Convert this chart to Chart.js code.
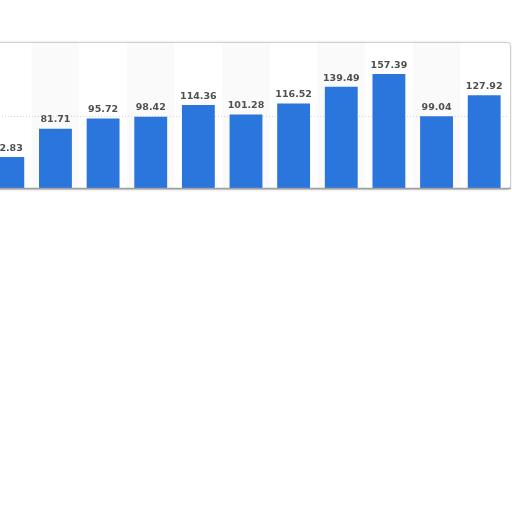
<!DOCTYPE html>
<html>
<head>
<meta charset="utf-8">
<script src="https://cdn.jsdelivr.net/npm/chart.js@4.4.1/dist/chart.umd.min.js"></script>
<style>
  html, body { margin: 0; padding: 0; background: #fff; overflow: hidden; }
  body { width: 512px; height: 512px; position: relative; }
  #card {
    position: absolute; left: -6px; top: 42px; width: 515px; height: 146px;
    border: 1px solid #cfcfcf; border-radius: 4px;
    box-shadow: 0 0 3px rgba(0,0,0,0.12);
    background: #fff;
  }
  #c { position: absolute; left: -40px; top: 0; }
</style>
</head>
<body>
<div id="card"></div>
<canvas id="c" width="560" height="512"></canvas>
<script>
// valores (primeira barra cortada à esquerda)
const categorias = ['1', '2', '3', '4', '5', '6', '7', '8', '9', '10', '11'];
const valores = [42.83, 81.71, 95.72, 98.42, 114.36, 101.28, 116.52, 139.49, 157.39, 99.04, 127.92];
const yMax = 200;
const linhaGrade = 100;

const COR_BARRA = '#2a76dc';
const COR_FAIXA = '#fafafa';

// faixas alternadas, linha pontilhada e eixo
const fundoPlugin = {
  id: 'fundo',
  beforeDatasetsDraw(chart) {
    const { ctx, chartArea, scales } = chart;
    const x = scales.x, y = scales.y;
    const passo = (chartArea.right - chartArea.left) / categorias.length;
    ctx.save();
    ctx.fillStyle = COR_FAIXA;
    categorias.forEach((c, i) => {
      if (i % 2 === 1) {
        const cx = x.getPixelForValue(i);
        ctx.fillRect(cx - passo / 2, chartArea.top, passo, chartArea.bottom - chartArea.top);
      }
    });
    const gy = Math.round(y.getPixelForValue(linhaGrade)) + 0.5;
    ctx.strokeStyle = '#d6d6d6';
    ctx.setLineDash([1, 2]);
    ctx.lineWidth = 1;
    ctx.beginPath();
    ctx.moveTo(chartArea.left, gy);
    ctx.lineTo(chartArea.right, gy);
    ctx.stroke();
    ctx.restore();
  },
  afterDatasetsDraw(chart) {
    const { ctx, chartArea } = chart;
    ctx.save();
    ctx.strokeStyle = '#a0a0a0';
    ctx.lineWidth = 1.5;
    ctx.beginPath();
    ctx.moveTo(chartArea.left, chartArea.bottom + 0.5);
    ctx.lineTo(chartArea.right + 3, chartArea.bottom + 0.5);
    ctx.stroke();

    // rótulos acima das barras
    ctx.fillStyle = '#505050';
    ctx.font = "bold 9.5px 'DejaVu Sans', sans-serif";
    ctx.textAlign = 'center';
    ctx.textBaseline = 'bottom';
    chart.getDatasetMeta(0).data.forEach((bar, i) => {
      ctx.fillText(valores[i].toFixed(2), bar.x, bar.y - 4);
    });
    ctx.restore();
  },
};

new Chart(document.getElementById('c'), {
  type: 'bar',
  data: {
    labels: categorias,
    datasets: [{
      data: valores,
      backgroundColor: COR_BARRA,
      borderWidth: 0,
      barPercentage: 0.69,
      categoryPercentage: 1,
    }],
  },
  options: {
    responsive: false,
    animation: false,
    devicePixelRatio: 1,
    layout: { padding: { left: 24, right: 12, top: 43, bottom: 324 } },
    plugins: { legend: { display: false }, tooltip: { enabled: false } },
    scales: {
      x: { display: false },
      y: { display: false, min: 0, max: yMax },
    },
  },
  plugins: [fundoPlugin],
});
</script>
</body>
</html>
